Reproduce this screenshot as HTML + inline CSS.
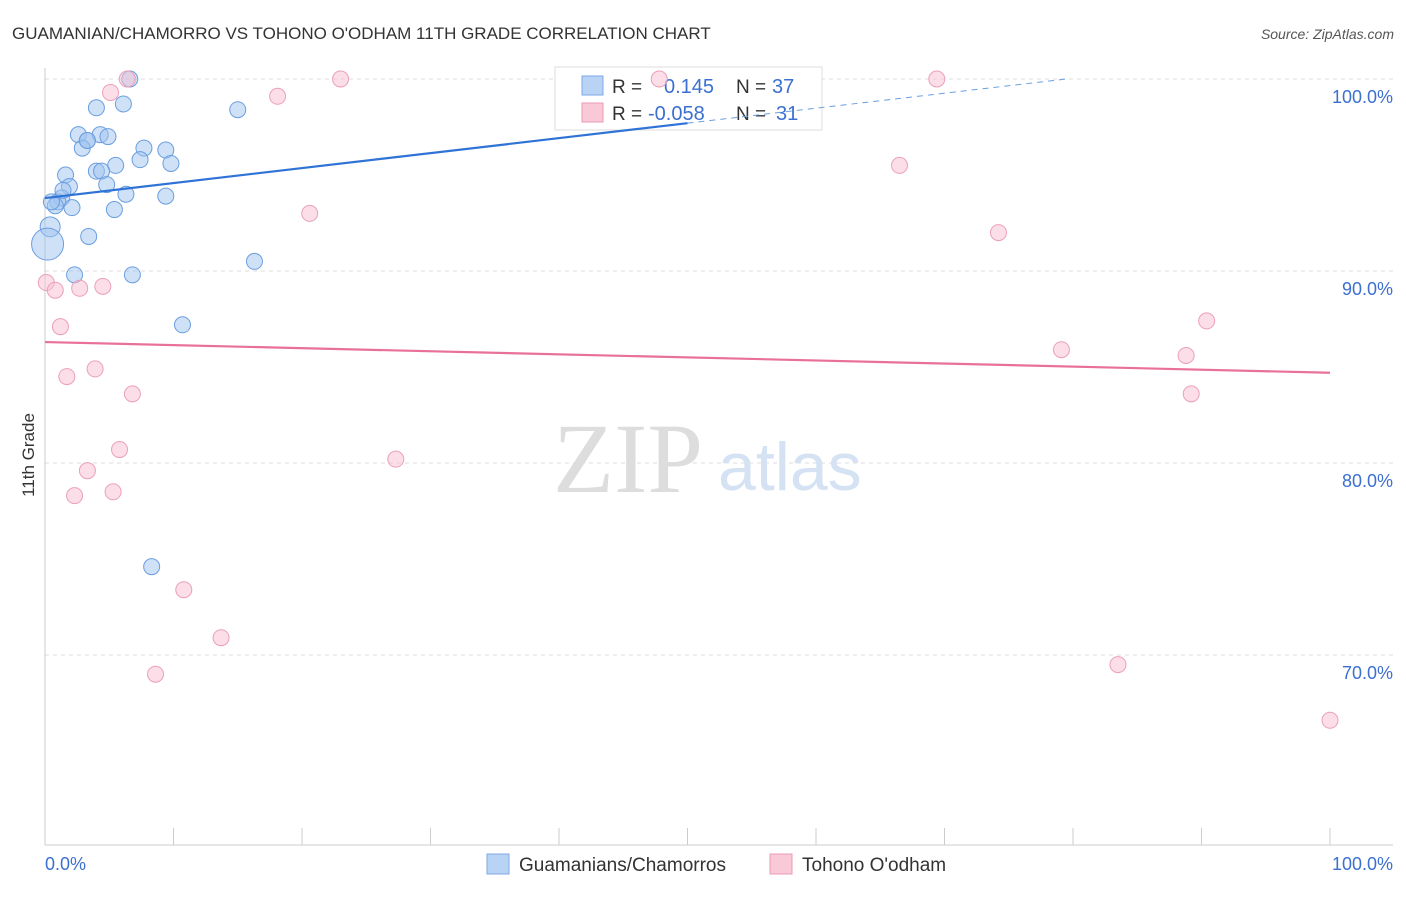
<!DOCTYPE html>
<html><head><meta charset="utf-8">
<style>
body{margin:0;background:#fff;font-family:"Liberation Sans",sans-serif;}
</style></head><body>
<svg id="chart" width="1406" height="892" font-family="Liberation Sans, sans-serif">
<text x="12" y="39" font-size="17" fill="#333">GUAMANIAN/CHAMORRO VS TOHONO O'ODHAM 11TH GRADE CORRELATION CHART</text>
<text x="1394" y="39" font-size="14" fill="#555" font-style="italic" text-anchor="end">Source: ZipAtlas.com</text>
<g id="grid"></g>
<text x="553" y="492" font-size="100" fill="#ddd" style="font-family:'Liberation Serif',serif">ZIP</text>
<text x="718" y="490" font-size="68" fill="#d4e2f4">atlas</text>
<g>
<rect x="555" y="67" width="267" height="63" fill="#fff" stroke="#ddd"/>
<rect x="582" y="76" width="21" height="19" fill="#b9d3f5" stroke="#7faae6"/>
<rect x="582" y="103" width="21" height="19" fill="#f9c9d7" stroke="#ec9ab3"/>
<text x="612" y="93" font-size="19" fill="#333">R = </text><text x="664" y="93" font-size="20" fill="#3b6fd1">0.145</text>
<text x="736" y="93" font-size="19" fill="#333">N = </text><text x="772" y="93" font-size="20" fill="#3b6fd1">37</text>
<text x="612" y="120" font-size="19" fill="#333">R = </text><text x="648" y="120" font-size="20" fill="#3b6fd1">-0.058</text>
<text x="736" y="120" font-size="19" fill="#333">N = </text><text x="776" y="120" font-size="20" fill="#3b6fd1">31</text>
</g>
<g id="marks"></g>
<text x="34" y="455" font-size="17" fill="#333" text-anchor="middle" transform="rotate(-90 34 455)">11th Grade</text>
<text x="45" y="870" font-size="18" fill="#3b6fd1">0.0%</text>
<text x="1393" y="870" font-size="18" fill="#3b6fd1" text-anchor="end">100.0%</text>
<g>
<rect x="487" y="854" width="22" height="20" fill="#b9d3f5" stroke="#7faae6"/>
<text x="519" y="871" font-size="19" fill="#333">Guamanians/Chamorros</text>
<rect x="770" y="854" width="22" height="20" fill="#f9c9d7" stroke="#ec9ab3"/>
<text x="802" y="871" font-size="19" fill="#333">Tohono O'odham</text>
</g>
</svg>
<script>
const yTicks=[100,90,80,70];
const xTickCount=10;
const blueX=[6.6,4.0,6.1,15.0,2.6,3.3,4.3,4.9,2.9,7.7,9.4,5.5,7.4,9.8,1.6,4.0,4.4,4.8,1.9,6.3,9.4,1.3,1.0,0.8,2.1,5.4,0.4,0.2,3.4,16.3,2.3,6.8,10.7,8.3,3.3,0.5,1.4];
const blueY=[100,98.5,98.7,98.4,97.1,96.8,97.1,97.0,96.4,96.4,96.3,95.5,95.8,95.6,95.0,95.2,95.2,94.5,94.4,94.0,93.9,93.8,93.6,93.4,93.3,93.2,92.3,91.4,91.8,90.5,89.8,89.8,87.2,74.6,96.8,93.6,94.2];
const blueR=[8,8,8,8,8,8,8,8,8,8,8,8,8,8,8,8,8,8,8,8,8,8,8,8,8,8,10,16,8,8,8,8,8,8,8,8,8];
const pinkX=[6.4,23.0,47.8,69.4,5.1,18.1,66.5,20.6,74.2,0.1,0.8,2.7,4.5,1.2,90.4,79.1,88.8,1.7,3.9,6.8,89.2,5.8,27.3,3.3,2.3,5.3,10.8,13.7,8.6,83.5,100];
const pinkY=[100,100,100,100,99.3,99.1,95.5,93.0,92.0,89.4,89.0,89.1,89.2,87.1,87.4,85.9,85.6,84.5,84.9,83.6,83.6,80.7,80.2,79.6,78.3,78.5,73.4,70.9,69.0,69.5,66.6];
const blueTrend=[93.8,97.7];
const pinkTrend=[86.3,84.7];
const X0=45,X1=1330,YT=79,PER=19.2;
const sx=v=>X0+(X1-X0)*v/100, sy=v=>YT+(100-v)*PER;
const NS="http://www.w3.org/2000/svg";
const grid=document.getElementById('grid'),marks=document.getElementById('marks');
function mk(tag,attrs,parent){const e=document.createElementNS(NS,tag);for(const k in attrs)e.setAttribute(k,attrs[k]);parent.appendChild(e);return e;}
yTicks.forEach(t=>{
 const l=mk('line',{x1:45,x2:1393,y1:sy(t),y2:sy(t),stroke:'#ddd','stroke-dasharray':'4,4'},grid);
 
 
 const tx=mk('text',{x:1393,y:sy(t)+24,'font-size':18,fill:'#3b6fd1','text-anchor':'end'},grid);
 tx.textContent=t.toFixed(1)+'%';
 
 
});
const ax=mk('line',{x1:45,x2:45,y1:68,y2:845,stroke:'#ccc'},grid);


const bx=mk('line',{x1:45,x2:1393,y1:845,y2:845,stroke:'#ccc'},grid);


for(let i=0;i<=xTickCount;i++){
 const t=mk('line',{x1:sx(i*10),x2:sx(i*10),y1:828,y2:845,stroke:'#ccc'},grid);
 
 
}
blueX.forEach((v,i)=>{
 const c=mk('circle',{cx:sx(v),cy:sy(blueY[i]),r:blueR[i],fill:'rgba(160,195,240,0.5)',stroke:'#6b9ee0','stroke-width':1},marks);
 
 
});
pinkX.forEach((v,i)=>{
 const c=mk('circle',{cx:sx(v),cy:sy(pinkY[i]),r:8,fill:'rgba(248,190,210,0.5)',stroke:'#eba0b8','stroke-width':1},marks);
 
 
});
const slope=(blueTrend[1]-blueTrend[0])/50;
const bt=mk('line',{x1:sx(0),y1:sy(blueTrend[0]),x2:sx(50),y2:sy(blueTrend[1]),stroke:'#2f73d6','stroke-width':2.2},marks);


const xEnd=Math.min(100,(100-blueTrend[0])/slope);
const bd=mk('line',{x1:sx(50),y1:sy(blueTrend[1]),x2:sx(xEnd),y2:sy(blueTrend[0]+slope*xEnd),stroke:'#6b9ee0','stroke-width':1,'stroke-dasharray':'6,5'},marks);


const pt=mk('line',{x1:sx(0),y1:sy(pinkTrend[0]),x2:sx(100),y2:sy(pinkTrend[1]),stroke:'#e8709a','stroke-width':2.2},marks);


</script>
</body></html>
